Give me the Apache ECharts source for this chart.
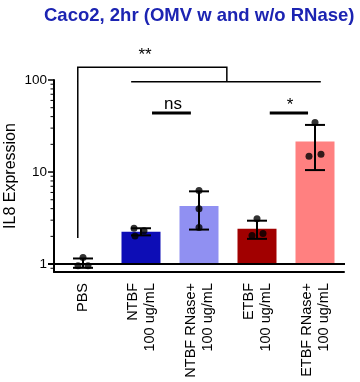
<!DOCTYPE html>
<html><head><meta charset="utf-8">
<script src="https://cdn.jsdelivr.net/npm/echarts@6/dist/echarts.min.js"></script>
<style>html,body{margin:0;padding:0;background:#fff}#c{width:360px;height:382px}</style>
</head><body><div id="c"></div>
<script>
// ---------- data ----------
const categories = ['PBS', 'NTBF\n100 ug/mL', 'NTBF RNase+\n100 ug/mL', 'ETBF\n100 ug/mL', 'ETBF RNase+\n100 ug/mL'];
const means = [1.03, 2.25, 4.27, 2.42, 21.5];
const sds = [0.12, 0.2, 1.9, 0.54, 11.0];
const replicates = [
  [1.18, 0.96, 0.96],
  [2.45, 2.3, 2.02],
  [6.3, 4.0, 2.5],
  [3.1, 2.05, 2.15],
  [34.5, 14.8, 15.6]
];
const yTickValues = [1, 10, 100];
const yTickLabels = ['1', '10', '100'];
const yMinorTickValues = [0.9, 2, 3, 4, 5, 6, 7, 8, 9, 20, 30, 40, 50, 60, 70, 80, 90];
const referenceValue = 1;
// significance annotations, in data space: [category position, value]
const sigBracketPaths = [
  [[-0.09, 1.92], [-0.09, 138], [2.48, 138], [2.48, 96]],
  [[0.83, 96], [4.10, 96]]
];
const sigBars = [[1.19, 1.86, 43.9], [3.22, 3.88, 43.9]];
const sigLabels = [['**', 1.07, 187], ['ns', 1.55, 54.8], ['*', 3.57, 53.5]];

// ---------- styles ----------
const barColors = ['rgba(0,0,0,0)', '#0d0db6', '#9090f2', '#a10000', '#ff8080'];
const dotJitterPx = [[0, -5, 5], [-7, 3, -6], [0, 0, 0], [0, -5, 6], [0, -6, 6]];
const FONT = '"Liberation Sans", Arial, sans-serif';

const chart = echarts.init(document.getElementById('c'), null, {renderer: 'canvas'});

const scatterData = [];
replicates.forEach((arr, i) => arr.forEach((v, j) => {
  scatterData.push({value: [i, v], symbolOffset: [dotJitterPx[i][j], 0]});
}));

// map a fractional category position + value to pixels through the axes
function catPoint(api, pos, val) {
  const base = api.coord([0, val]);
  const band = api.size([1, 0])[0];
  return [base[0] + pos * band, base[1]];
}

const option = {
  animation: false,
  backgroundColor: '#fff',
  title: {
    text: 'Caco2, 2hr (OMV w and w/o RNase)',
    left: 39, top: 1,
    textStyle: {fontFamily: FONT, fontSize: 18.5, fontWeight: 'bold', color: '#1c24b2'}
  },
  grid: {left: 54, right: 16, top: 80, bottom: 110, containLabel: false, outerBoundsMode: 'none'},
  xAxis: {
    type: 'category',
    data: categories,
    axisLine: {onZero: false, lineStyle: {color: '#000', width: 2}},
    axisTick: {alignWithLabel: true, length: 8, lineStyle: {color: '#000', width: 2}},
    axisLabel: {rotate: 90, fontSize: 14.5, lineHeight: 17, margin: 11, color: '#000', fontFamily: FONT, interval: 0},
    splitLine: {show: false}
  },
  yAxis: {
    type: 'log',
    min: 0.82, max: 100,
    name: 'IL8 Expression',
    nameLocation: 'middle',
    nameGap: 35,
    nameTextStyle: {fontSize: 16, color: '#000', fontFamily: FONT},
    axisLine: {show: true, lineStyle: {color: '#000', width: 2}},
    axisTick: {show: false},
    axisLabel: {show: false},
    splitLine: {show: false}
  },
  series: [
    {
      type: 'bar', z: 2, barWidth: 39,
      data: means.map((m, i) => ({value: m, itemStyle: {color: barColors[i]}}))
    },
    { // y-axis ticks & labels
      type: 'custom', z: 3,
      data: yTickValues.map((v, i) => [0, v, i]),
      encode: {x: 0, y: 1},
      renderItem(params, api) {
        const y = api.coord([0, api.value(1)])[1];
        const x0 = params.coordSys.x;
        return {type: 'group', children: [
          {type: 'line', shape: {x1: x0 - 6, y1: y, x2: x0, y2: y}, style: {stroke: '#000', lineWidth: 1.5}},
          {type: 'text', style: {text: yTickLabels[api.value(2)], x: x0 - 7, y: y, align: 'right', verticalAlign: 'middle', fontSize: 13.5, fontFamily: FONT, fill: '#000'}}
        ]};
      }
    },
    { // minor ticks
      type: 'custom', z: 3,
      data: yMinorTickValues.map(v => [0, v]),
      encode: {x: 0, y: 1},
      renderItem(params, api) {
        const y = api.coord([0, api.value(1)])[1];
        const x0 = params.coordSys.x;
        return {type: 'line', shape: {x1: x0 - 3.5, y1: y, x2: x0, y2: y}, style: {stroke: '#000', lineWidth: 1}};
      }
    },
    { // reference line at 1
      type: 'custom', z: 4,
      data: [[0, referenceValue]],
      encode: {x: 0, y: 1},
      renderItem(params, api) {
        const y = api.coord([0, api.value(1)])[1];
        const cs = params.coordSys;
        return {type: 'line', shape: {x1: cs.x - 6, y1: y, x2: cs.x + cs.width + 1, y2: y}, style: {stroke: '#000', lineWidth: 2}};
      }
    },
    { // error bars
      type: 'custom', z: 5,
      data: means.map((m, i) => [i, m - sds[i], m + sds[i]]),
      encode: {x: 0, y: [1, 2]},
      renderItem(params, api) {
        const lo = api.coord([api.value(0), api.value(1)]);
        const hi = api.coord([api.value(0), api.value(2)]);
        const x = lo[0], hw = 10;
        const st = {stroke: '#000', lineWidth: 2};
        return {type: 'group', children: [
          {type: 'line', shape: {x1: x, y1: lo[1], x2: x, y2: hi[1]}, style: st},
          {type: 'line', shape: {x1: x - hw, y1: lo[1], x2: x + hw, y2: lo[1]}, style: st},
          {type: 'line', shape: {x1: x - hw, y1: hi[1], x2: x + hw, y2: hi[1]}, style: st}
        ]};
      }
    },
    {
      type: 'scatter', z: 6, symbol: 'circle', symbolSize: 7,
      itemStyle: {color: '#000'},
      data: scatterData
    },
    { // significance brackets
      type: 'custom', z: 6,
      data: sigBracketPaths.map((p, i) => [0, 1, i]),
      encode: {x: 0, y: 1},
      renderItem(params, api) {
        const path = sigBracketPaths[params.dataIndex];
        return {type: 'polyline', shape: {points: path.map(pt => catPoint(api, pt[0], pt[1]))}, style: {stroke: '#000', lineWidth: 1.5, fill: null}};
      }
    },
    { // significance short bars
      type: 'custom', z: 6,
      data: sigBars.map((b, i) => [0, b[2], i]),
      encode: {x: 0, y: 1},
      renderItem(params, api) {
        const b = sigBars[params.dataIndex];
        const p1 = catPoint(api, b[0], b[2]);
        const p2 = catPoint(api, b[1], b[2]);
        return {type: 'line', shape: {x1: p1[0], y1: p1[1], x2: p2[0], y2: p2[1]}, style: {stroke: '#000', lineWidth: 3}};
      }
    },
    { // significance labels
      type: 'custom', z: 6,
      data: sigLabels.map((l, i) => [0, l[2], i]),
      encode: {x: 0, y: 1},
      renderItem(params, api) {
        const l = sigLabels[params.dataIndex];
        const p = catPoint(api, l[1], l[2]);
        return {type: 'text', style: {text: l[0], x: p[0], y: p[1], align: 'center', verticalAlign: 'middle', fontSize: 17, fontFamily: FONT, fill: '#000'}};
      }
    }
  ]
};
chart.setOption(option);
</script>
</body></html>
